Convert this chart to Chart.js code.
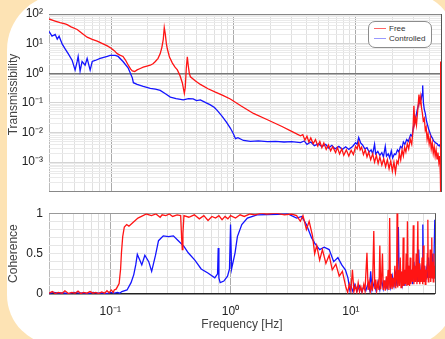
<!DOCTYPE html>
<html>
<head>
<meta charset="utf-8">
<script src="https://cdn.jsdelivr.net/npm/chart.js@4.4.1/dist/chart.umd.min.js"></script>
<style>
html, body { margin: 0; padding: 0; }
body { width: 445px; height: 339px; overflow: hidden; background: #fde3b4; position: relative;
       font-family: "Liberation Sans", Arial, sans-serif; }
#card { position: absolute; left: 7px; top: -6px; width: 446px; height: 351px; background: #fff;
        border-radius: 56px 42px 45px 50px; }
canvas { position: absolute; left: 0; }
#topChart { top: 0; }
#cohChart { top: 200px; }
#legend { position: absolute; left: 368px; top: 21px; width: 62px; height: 25px; background: #fff;
          border: 1px solid #8c8c8c; border-radius: 7px; font-size: 8px; color: #333; }
#legend .ln { position: absolute; left: 5px; width: 12px; height: 1px; }
#legend .tx { position: absolute; left: 20px; line-height: 9px; }
</style>
</head>
<body>
<div id="card"></div>
<canvas id="topChart" width="445" height="205"></canvas>
<canvas id="cohChart" width="445" height="139"></canvas>
<div id="legend">
  <div class="ln" style="top:6px;background:#f66"></div><div class="tx" style="top:2px">Free</div>
  <div class="ln" style="top:16px;background:#99f"></div><div class="tx" style="top:12px">Controlled</div>
</div>
<script>
// Tick labels
const yTickValues = [1e-3, 1e-2, 1e-1, 1, 10, 100];
const yTickLabels = ['10⁻³', '10⁻²', '10⁻¹', '10⁰', '10¹', '10²'];
const xTickValues = [0.1, 1, 10];
const xTickLabels = ['10⁻¹', '10⁰', '10¹'];
const cohTickValues = [0, 0.5, 1];
const cohTickLabels = ['0', '0.5', '1'];

// Transmissibility - Free
const freeFreq = [0.031,0.0348,0.0382,0.042,0.0436,0.047,0.0527,0.058,0.0636,0.07,0.0768,0.085,0.093,0.1,0.106,0.112,0.118,0.125,0.131,0.138,0.144,0.149,0.156,0.163,0.173,0.183,0.196,0.209,0.22,0.23,0.242,0.252,0.26,0.267,0.272,0.277,0.283,0.288,0.3,0.317,0.333,0.348,0.365,0.382,0.397,0.404,0.412,0.42,0.428,0.436,0.445,0.49,0.537,0.62,0.713,0.82,0.944,1.15,1.46,1.9,2.5,3.0,
  3.54,3.7,3.85,4.0,4.15,4.3,4.5,4.7,4.9,5.1,5.3,5.5,5.75,6.0,6.25,6.5,6.86,7.1,7.4,7.7,8.0,8.4,8.8,9.2,9.6,10.0,10.3,10.6,10.9,11.2,11.6,12.0,12.4,12.8,13.3,13.8,14.3,14.8,15.3,15.8,16.4,17.0,17.6,18.2,18.8,19.4,20.0,20.6,21.2,21.8,22.3,22.8,23.4,24.0,24.6,25.2,25.8,26.5,27.2,28.0,28.8,29.5,30.0,30.5,31.0,31.5,32.3,33.0,33.6,34.1,34.6,35.2,35.8,36.5,37.2,37.8,38.5,39.2,40.0,40.8,41.6,42.4,43.2,44.0,44.8,45.6,46.4,47.2,48.0,48.8,49.4,49.6,49.7];
const freeTrans = [68,58,51,46,44,37,30,22,16.5,14,12.2,10,8.4,7.0,5.8,4.6,4.1,3.7,2.8,1.87,1.4,1.2,1.15,1.3,1.45,1.6,1.75,1.87,2.1,2.5,3.2,4.6,7.5,14,35,22,10,6.7,3.5,2.2,1.6,1.3,0.85,0.48,0.21,0.33,1.5,3.6,1.73,1.0,0.76,0.55,0.42,0.3,0.23,0.18,0.135,0.08,0.044,0.027,0.016,0.011,
  0.0078,0.0085,0.0055,0.0075,0.0048,0.0066,0.0042,0.0058,0.0035,0.0050,0.0031,0.0044,0.0027,0.0038,0.0024,0.0033,0.0021,0.0031,0.0019,0.0028,0.0017,0.0026,0.0016,0.0025,0.0018,0.0034,0.0028,0.0046,0.0026,0.0032,0.0018,0.0026,0.0015,0.0022,0.0012,0.0019,0.0010,0.0017,0.0009,0.0015,0.0008,0.0013,0.0007,0.0012,0.0006,0.0011,0.0005,0.0010,0.00045,0.0011,0.0009,0.0020,0.0012,0.0026,0.0016,0.0032,0.0022,0.0042,0.0028,0.0060,0.0040,0.012,0.08,0.02,0.03,0.018,0.06,0.19,0.1,0.157,0.07,0.045,0.025,0.03,0.012,0.015,0.006,0.009,0.0042,0.0065,0.0028,0.0045,0.0020,0.0033,0.0016,0.0026,0.0013,0.0021,0.0010,0.0016,0.0004,0.00009,2.5];

// Transmissibility - Controlled
const ctrlFreq = [0.031,0.0328,0.0348,0.0362,0.0375,0.0397,0.042,0.0445,0.048,0.0507,0.0527,0.0537,0.0557,0.0578,0.0612,0.0636,0.0673,0.07,0.074,0.0813,0.093,0.098,0.108,0.114,0.125,0.138,0.149,0.152,0.163,0.183,0.209,0.23,0.252,0.28,0.305,0.34,0.389,0.43,0.469,0.5,0.537,0.6,0.648,0.7,0.74,0.81,0.88,0.944,1.0,1.04,1.09,1.21,1.38,1.6,1.9,2.21,2.6,3.0,
  3.54,3.8,4.0,4.3,4.6,4.98,5.3,5.7,6.0,6.4,6.8,7.3,7.8,8.3,8.8,9.45,10.0,10.3,10.6,11.0,11.4,11.9,12.4,12.9,13.4,13.8,14.3,14.6,15.2,15.8,16.4,16.9,17.5,17.9,18.5,19.0,19.6,20.1,20.8,21.3,22.0,22.6,23.3,24.0,24.6,25.3,26.2,27.0,28.2,29.0,29.8,30.5,31.2,32.0,32.8,33.6,34.4,35.0,35.4,35.9,36.5,37.2,38.0,38.8,39.6,40.5,41.5,42.5,43.5,44.5,45.5,46.5,47.5,48.5,49.8];
const ctrlTrans = [25.9,17.8,20.6,14.2,17.8,9.8,6.7,4.6,2.7,1.28,2.5,3.7,1.19,2.5,1.87,3.16,1.28,2.5,2.7,3.16,3.7,4.0,4.0,3.7,2.5,1.49,0.70,0.48,0.42,0.36,0.31,0.29,0.265,0.2,0.157,0.14,0.126,0.14,0.136,0.12,0.126,0.1,0.086,0.07,0.055,0.035,0.022,0.0142,0.0091,0.0062,0.0067,0.0054,0.0050,0.0052,0.0049,0.0050,0.0048,0.0049,
  0.0046,0.0052,0.0040,0.0048,0.0036,0.0042,0.0033,0.0040,0.0030,0.0037,0.0028,0.0034,0.0027,0.0033,0.0027,0.0034,0.0045,0.0040,0.0068,0.0045,0.0038,0.0028,0.0031,0.0022,0.0026,0.0019,0.0040,0.0019,0.0023,0.0017,0.0021,0.0015,0.0034,0.0016,0.0019,0.0014,0.0024,0.0014,0.0019,0.0018,0.0026,0.0022,0.0034,0.0030,0.0048,0.0040,0.0058,0.0050,0.0085,0.0075,0.016,0.022,0.035,0.06,0.09,0.11,0.13,0.2,0.39,0.1,0.06,0.044,0.025,0.018,0.0132,0.010,0.0075,0.0065,0.0052,0.0048,0.0044,0.0042,0.0036,0.0038,0.003];

// Coherence - Free
const freeCohFreq = [0.031,0.033,0.035,0.037,0.04,0.042,0.045,0.048,0.051,0.054,0.057,0.06,0.064,0.068,0.072,0.076,0.08,0.085,0.09,0.094,0.098,0.102,0.106,0.108,0.112,0.1186,0.122,0.124,0.127,0.131,0.137,0.143,0.153,0.17,0.2,0.22,0.24,0.26,0.27,0.29,0.31,0.33,0.36,0.385,0.392,0.397,0.402,0.41,0.45,0.5,0.55,0.6,0.65,0.7,0.75,0.8,0.85,0.9,0.95,1.0,1.1,1.2,1.3,1.45,1.6,1.8,2.0,2.4,2.8,3.2,3.54,3.8,4.0,4.27,4.5,4.8,5.0,5.2,5.5,5.8,6.2,6.6,7.0,7.5,8.0,8.5,
  9.1,9.4,9.7,10.0,10.3,10.6,10.9,11.2,11.5,11.8,12.1,12.4,12.8,13.1,13.6,13.9,14.2,14.5,14.8,15.1,15.5,15.8,16.1,16.4,16.8,17.1,17.4,17.7,18.0,18.3,18.6,19.0,19.3,19.7,20.0,20.4,20.7,21.0,21.3,21.7,22.0,22.4,22.8,23.2,23.6,24.0,24.2,24.5,24.9,25.3,25.7,26.1,26.5,26.9,27.2,27.6,28.0,28.4,28.8,29.2,29.5,29.9,30.3,30.7,31.1,31.5,32.0,32.5,33.0,33.4,33.9,34.4,34.9,35.4,36.0,36.4,36.9,37.4,37.9,38.4,39.0,39.5,40.0,40.5,41.0,41.5,42.0,42.6,43.2,43.6,44.0,44.5,45.0,45.6,46.1,46.6,47.0,47.4,47.9,48.4,48.9,49.4,49.8];
const freeCoh = [0.01,0.03,0.005,0.02,0.01,0.04,0.005,0.02,0.01,0.035,0.005,0.02,0.01,0.03,0.01,0.02,0.005,0.025,0.01,0.04,0.015,0.05,0.02,0.05,0.06,0.13,0.31,0.51,0.71,0.83,0.86,0.84,0.88,0.94,0.99,0.97,0.99,0.95,0.98,0.97,0.99,0.96,0.98,0.97,0.7,0.55,0.75,0.97,0.95,0.98,0.93,0.97,0.91,0.96,0.94,0.97,0.92,0.96,0.93,0.97,0.94,0.98,0.96,0.99,0.98,1.0,0.99,1.0,0.98,0.99,0.97,0.9,0.97,0.8,0.9,0.72,0.5,0.6,0.42,0.55,0.38,0.48,0.3,0.37,0.22,0.28,
  0.08,0.02,0.12,0.04,0.3,0.03,0.1,0.02,0.14,0.03,0.09,0.02,0.12,0.04,0.51,0.05,0.15,0.03,0.12,0.04,0.78,0.06,0.18,0.04,0.14,0.05,0.6,0.06,0.2,0.5,0.05,0.17,0.04,0.22,0.06,0.3,0.05,0.94,0.07,0.25,0.06,0.2,0.08,0.35,0.07,0.25,1.0,0.08,0.3,0.1,0.45,0.08,0.28,0.1,0.7,0.1,0.3,0.12,0.5,0.1,0.9,0.12,0.35,0.1,0.45,0.12,0.3,0.15,0.85,0.12,0.35,0.15,0.5,0.12,0.9,0.15,0.38,0.12,0.3,0.15,0.45,0.12,0.6,0.15,0.35,0.12,0.3,0.18,0.5,0.92,0.15,0.35,0.2,0.55,0.15,0.4,0.7,0.2,0.4,0.15,0.5,0.2,0.35];

// Coherence - Controlled
const ctrlCohFreq = [0.031,0.034,0.037,0.041,0.045,0.05,0.055,0.06,0.066,0.072,0.079,0.086,0.094,0.1,0.108,0.115,0.12,0.125,0.138,0.149,0.157,0.163,0.168,0.176,0.183,0.194,0.209,0.221,0.238,0.252,0.276,0.305,0.335,0.368,0.41,0.445,0.505,0.57,0.648,0.74,0.78,0.79,0.8,0.82,0.88,0.944,0.98,1.0,1.02,1.09,1.14,1.24,1.38,1.66,3.0,3.54,3.9,4.27,4.7,5.0,5.5,6.0,6.6,7.2,7.8,8.4,9.0,
  9.45,9.8,10.0,10.4,10.8,11.3,11.8,12.3,12.8,13.3,13.8,14.3,14.6,15.0,15.6,16.2,16.8,17.4,18.0,18.6,19.3,20.0,20.7,21.4,22.1,22.8,23.5,24.2,24.8,25.3,26.0,26.7,27.4,28.1,28.8,29.5,30.2,31.0,31.8,32.6,33.4,34.2,35.0,35.8,36.6,37.4,38.2,39.0,39.6,40.2,41.0,41.8,42.6,43.4,44.2,45.0,45.8,46.6,47.4,48.2,49.0,49.8];
const ctrlCoh = [0.005,0.02,0.01,0.015,0.005,0.02,0.01,0.015,0.005,0.02,0.01,0.015,0.005,0.02,0.01,0.02,0.01,0.03,0.05,0.14,0.24,0.36,0.49,0.42,0.36,0.48,0.4,0.28,0.48,0.66,0.72,0.71,0.72,0.66,0.59,0.51,0.42,0.31,0.26,0.2,0.25,0.57,0.2,0.14,0.16,0.22,0.31,0.86,0.31,0.51,0.71,0.86,0.94,0.98,0.99,0.94,0.96,0.86,0.7,0.63,0.55,0.58,0.55,0.4,0.45,0.36,0.3,
  0.2,0.05,0.1,0.03,0.12,0.04,0.1,0.03,0.09,0.04,0.12,0.05,0.28,0.05,0.14,0.04,0.15,0.05,0.18,0.06,0.15,0.07,0.2,0.08,0.22,0.1,0.25,0.1,0.83,0.1,0.25,0.12,0.3,0.1,0.25,0.12,0.35,0.15,0.3,0.12,0.4,0.15,0.3,0.15,0.55,0.15,0.3,0.2,0.86,0.15,0.35,0.15,0.3,0.2,0.45,0.2,0.35,0.2,0.5,0.2,0.4,0.92];

const toPoints = (fs, vs) => fs.map((f, i) => ({ x: f, y: vs[i] }));
const isDecade = v => Math.abs(Math.log10(v) - Math.round(Math.log10(v))) < 1e-6;
const near = (a, b) => Math.abs(a - b) < 1e-9 * Math.max(1, Math.abs(b)) || Math.abs(a - b) < 1e-12;
const findLabel = (v, vals, labels, log) => {
  for (let i = 0; i < vals.length; i++) {
    if (log ? Math.abs(Math.log10(v) - Math.log10(vals[i])) < 1e-6 : Math.abs(v - vals[i]) < 1e-6) return labels[i];
  }
  return '';
};
// Chart.js adds a 1.5x tick in each decade, the reference has none
const dropHalfTicks = s => {
  s.ticks = s.ticks.filter(t => {
    const m = t.value / Math.pow(10, Math.floor(Math.log10(t.value) + 1e-9));
    return Math.abs(m - 1.5) > 1e-6;
  });
};

const tickFont = { family: 'Liberation Sans, Arial, sans-serif', size: 12 };
const titleFont = { family: 'Liberation Sans, Arial, sans-serif', size: 12 };
const XMIN = 0.031, XMAX = 50;

function xGridColor(ctx) {
  const v = ctx.tick.value;
  if (v >= XMAX - 1e-6) return '#555';
  if (v <= XMIN + 1e-6) return '#bbb';
  return isDecade(v) ? '#aaa' : '#e0e0e0';
}

const lineDs = (label, data, color, width) => ({
  label, data, borderColor: color, borderWidth: width, pointRadius: 0, tension: 0, fill: false
});

// Top panel: transmissibility
new Chart(document.getElementById('topChart'), {
  type: 'line',
  data: {
    datasets: [
      lineDs('Free', toPoints(freeFreq, freeTrans), 'rgb(255,20,20)', 1.3),
      lineDs('Controlled', toPoints(ctrlFreq, ctrlTrans), 'rgb(20,20,255)', 1.3)
    ]
  },
  options: {
    responsive: false, animation: false, events: [],
    layout: { padding: { top: 14, right: 4, bottom: 7, left: 0 } },
    plugins: { legend: { display: false }, tooltip: { enabled: false } },
    scales: {
      x: {
        type: 'logarithmic', min: XMIN, max: XMAX,
        afterBuildTicks: dropHalfTicks,
        afterFit: s => { s.height = 0; },
        ticks: { display: false, autoSkip: false },
        border: { display: false },
        grid: { drawTicks: false, color: xGridColor, lineWidth: 1 }
      },
      y: {
        type: 'logarithmic', min: 1e-4, max: 100,
        afterBuildTicks: dropHalfTicks,
        afterFit: s => { s.width = 49; },
        border: { display: false },
        title: { display: true, text: '\u00a0\u00a0\u00a0\u00a0\u00a0Transmissibility', color: '#444', font: titleFont, padding: { top: 6, bottom: 0 } },
        ticks: {
          autoSkip: false, padding: 6, color: '#222', font: tickFont,
          callback: v => findLabel(v, yTickValues, yTickLabels, true)
        },
        grid: {
          drawTicks: false,
          color: ctx => {
            const v = ctx.tick.value;
            if (near(v, 100) || near(v, 1e-4)) return '#888';
            if (near(v, 1)) return '#777';
            return isDecade(v) ? '#d4d4d4' : '#eaeaea';
          },
          lineWidth: ctx => near(ctx.tick.value, 1) ? 1.5 : 1
        }
      }
    }
  }
});

// Bottom panel: coherence
new Chart(document.getElementById('cohChart'), {
  type: 'line',
  data: {
    datasets: [
      lineDs('Free', toPoints(freeCohFreq, freeCoh), 'rgb(255,20,20)', 1.3),
      lineDs('Controlled', toPoints(ctrlCohFreq, ctrlCoh), 'rgb(20,20,255)', 1.3)
    ]
  },
  options: {
    responsive: false, animation: false, events: [],
    layout: { padding: { top: 8, right: 4, bottom: 0, left: 0 } },
    plugins: { legend: { display: false }, tooltip: { enabled: false } },
    scales: {
      x: {
        type: 'logarithmic', min: XMIN, max: XMAX,
        afterBuildTicks: dropHalfTicks,
        afterFit: s => { s.height = 45; },
        border: { display: false },
        title: { display: true, text: 'Frequency [Hz]', color: '#444', font: titleFont, padding: { top: 0, bottom: 7 } },
        ticks: {
          autoSkip: false, maxRotation: 0, padding: 10, color: '#222', font: tickFont,
          callback: v => findLabel(v, xTickValues, xTickLabels, true)
        },
        grid: { drawTicks: false, color: xGridColor, lineWidth: 1 }
      },
      y: {
        type: 'linear', min: 0, max: 1,
        afterFit: s => { s.width = 49; },
        border: { display: false },
        title: { display: true, text: 'Coherence', color: '#444', font: titleFont, padding: { top: 6, bottom: 0 } },
        ticks: {
          stepSize: 0.1, autoSkip: false, padding: 6, color: '#222', font: tickFont,
          callback: v => findLabel(v, cohTickValues, cohTickLabels, false)
        },
        grid: {
          drawTicks: false,
          color: ctx => {
            const v = ctx.tick.value;
            if (Math.abs(v) < 1e-6) return '#222';
            if (Math.abs(v - 1) < 1e-6) return '#999';
            return '#e6e6e6';
          },
          lineWidth: ctx => Math.abs(ctx.tick.value) < 1e-6 ? 1.5 : 1
        }
      }
    }
  }
});
</script>
</body>
</html>
